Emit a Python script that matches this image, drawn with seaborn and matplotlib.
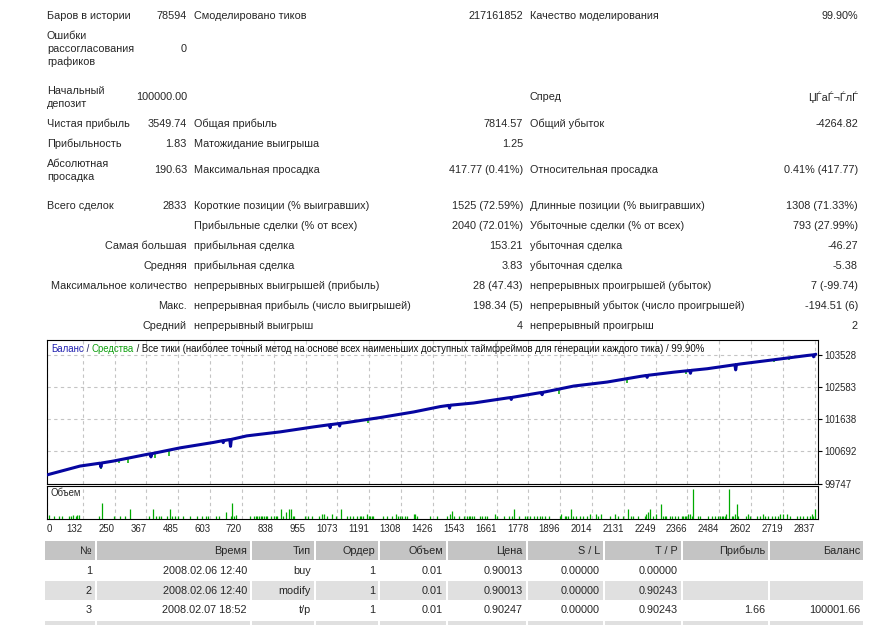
import numpy as np
import pandas as pd
import seaborn as sns
import matplotlib.pyplot as plt
from matplotlib.patches import Rectangle


# ---- report summary (three label/value column pairs, one entry per row) ----
col1_labels = ["Баров в истории", "Ошибки\nрассогласования\nграфиков", "Начальный\nдепозит",
               "Чистая прибыль", "Прибыльность", "Абсолютная\nпросадка", "Всего сделок", "",
               "Самая большая", "Средняя", "Максимальное количество", "Макс.", "Средний"]
col1_values = ["78594", "0", "100000.00", "3549.74", "1.83", "190.63", "2833", "",
               "", "", "", "", ""]
col2_labels = ["Смоделировано тиков", "", "", "Общая прибыль", "Матожидание выигрыша",
               "Максимальная просадка", "Короткие позиции (% выигравших)",
               "Прибыльные сделки (% от всех)", "прибыльная сделка", "прибыльная сделка",
               "непрерывных выигрышей (прибыль)", "непрерывная прибыль (число выигрышей)",
               "непрерывный выигрыш"]
col2_values = ["217161852", "", "", "7814.57", "1.25", "417.77 (0.41%)", "1525 (72.59%)",
               "2040 (72.01%)", "153.21", "3.83", "28 (47.43)", "198.34 (5)", "4"]
col3_labels = ["Качество моделирования", "", "Спред", "Общий убыток", "",
               "Относительная просадка", "Длинные позиции (% выигравших)",
               "Убыточные сделки (% от всех)", "убыточная сделка", "убыточная сделка",
               "непрерывных проигрышей (убыток)", "непрерывный убыток (число проигрышей)",
               "непрерывный проигрыш"]
col3_values = ["99.90%", "", "ЏЃаЃ¬ЃлЃ", "-4264.82", "", "0.41% (417.77)", "1308 (71.33%)",
               "793 (27.99%)", "-46.27", "-5.38", "7 (-99.74)", "-194.51 (6)", "2"]

# ---- balance curve (trade number, balance) ----
balance_trade = [0, 122, 196, 199, 202, 245, 369, 381, 384, 387, 492, 615, 648, 651, 654,
                 675, 678, 681, 738, 861, 985, 1043, 1046, 1049, 1078, 1081, 1084, 1108,
                 1231, 1354, 1453, 1484, 1487, 1490, 1576, 1700, 1712, 1715, 1718, 1823,
                 1826, 1829, 1832, 1946, 2069, 2192, 2214, 2217, 2220, 2315, 2374, 2377,
                 2380, 2439, 2541, 2544, 2547, 2562, 2685, 2809, 2829, 2832, 2835, 2840]
balance_value = [100000, 100260, 100345, 100230, 100350, 100407, 100603, 100620, 100530,
                 100625, 100796, 100955, 101005, 100950, 101010, 101040, 100840, 101045,
                 101148, 101265, 101412, 101475, 101390, 101480, 101510, 101440, 101515,
                 101541, 101687, 101851, 102010, 102045, 101965, 102050, 102115, 102262,
                 102275, 102220, 102280, 102420, 102423, 102360, 102428, 102614, 102731,
                 102898, 102925, 102870, 102930, 103021, 103070, 102990, 103075, 103123,
                 103240, 103090, 103245, 103264, 103387, 103513, 103530, 103475, 103535,
                 103549.74]

# ---- equity drawdown spikes (trade, top, bottom) ----
equity_trade = [199, 266, 299, 399, 451, 1187, 1893, 2141, 2359, 2684, 2740]
equity_high = [100350, 100450, 100500, 100640, 100730, 101640, 102510, 102820, 103060,
               103385, 103440]
equity_low = [100160, 100360, 100355, 100490, 100555, 101520, 102365, 102700, 102970,
              103325, 103380]

# ---- volume panel ----
volume_trade = [7, 26, 44, 57, 81, 88, 97, 106, 112, 118, 192, 204, 248, 270, 288, 307,
                377, 391, 403, 414, 421, 444, 455, 463, 473, 485, 502, 529, 553, 574, 587,
                595, 624, 636, 661, 679, 685, 691, 698, 750, 763, 772, 777, 784, 790, 796,
                802, 809, 814, 827, 839, 846, 851, 864, 870, 882, 895, 901, 907, 913, 954,
                966, 979, 1003, 1016, 1024, 1034, 1053, 1068, 1087, 1108, 1120, 1132, 1145,
                1155, 1161, 1169, 1182, 1188, 1194, 1200, 1206, 1243, 1256, 1274, 1290,
                1297, 1305, 1311, 1324, 1330, 1354, 1360, 1367, 1416, 1441, 1478, 1490,
                1496, 1502, 1521, 1539, 1552, 1558, 1564, 1570, 1576, 1601, 1607, 1619,
                1626, 1656, 1662, 1687, 1705, 1718, 1724, 1742, 1767, 1773, 1786, 1798,
                1810, 1823, 1829, 1841, 1853, 1894, 1900, 1912, 1919, 1925, 1935, 1944,
                1956, 1968, 1981, 1993, 2005, 2027, 2036, 2048, 2079, 2097, 2110, 2128,
                2147, 2159, 2165, 2184, 2208, 2214, 2221, 2227, 2239, 2251, 2267, 2276,
                2282, 2288, 2301, 2307, 2319, 2332, 2344, 2350, 2356, 2362, 2369, 2375,
                2381, 2387, 2406, 2412, 2443, 2455, 2467, 2480, 2485, 2492, 2498, 2504,
                2510, 2519, 2529, 2535, 2541, 2548, 2553, 2584, 2590, 2596, 2621, 2633,
                2646, 2652, 2664, 2677, 2689, 2701, 2707, 2720, 2732, 2744, 2769, 2781,
                2794, 2806, 2818, 2825, 2831, 2837]
volume_size = [1.3, 1, 1, 1, 1, 1, 1.3, 1, 1.3, 1.3, 1, 5, 1, 1, 1, 3,
               1, 3, 1, 1, 1, 1, 3, 1, 1, 1, 1, 1, 1, 1, 1,
               1, 1, 1, 2.2, 1, 5, 1, 1.3, 1, 1, 1, 1, 1, 1, 1,
               1, 1, 1, 1, 1, 1, 1, 3, 1, 2.2, 3, 3, 1, 1, 1,
               1, 1, 1, 1.6, 1.6, 1, 1.6, 1, 3, 1, 1, 1, 1,
               1, 1, 1, 1.6, 1, 1, 1, 1, 1, 1, 1, 1.6,
               1, 1, 1, 1, 1, 1.6, 1.6, 1, 1, 1, 1, 1.6,
               2.5, 1, 1, 1, 1, 1, 1, 1, 1, 1, 1, 1,
               1, 1.6, 1, 1, 1, 1, 3, 1, 1, 1, 1, 1,
               1, 1, 1, 1, 1, 1, 1.6, 1, 1, 1, 3, 1,
               1, 1, 1, 1, 1.6, 1.6, 1, 1.6, 1, 1.6, 1, 1,
               3, 1, 1, 1, 1, 1.6, 2, 3, 1, 1.6, 4.6, 1,
               1, 1, 1, 1, 1, 1, 1, 1, 1, 1, 1.6, 1.6,
               1, 9, 1, 1, 1, 1, 1, 1, 1, 1, 1, 1,
               1.6, 9, 1, 1, 1.6, 4.6, 1, 1, 1.6, 1, 1, 1,
               1.6, 1, 1, 1, 1, 1, 1.6, 1.6, 1.6, 1, 1, 1,
               1, 1, 1, 1.6, 1, 3]

x_ticks = [0, 132, 250, 367, 485, 603, 720, 838, 955, 1073, 1191, 1308, 1426, 1543, 1661,
           1778, 1896, 2014, 2131, 2249, 2366, 2484, 2602, 2719, 2837]
y_ticks = [99747, 100692, 101638, 102583, 103528]

title_parts = ["Баланс", " / ", "Средства",
               " / Все тики (наиболее точный метод на основе всех наименьших доступных "
               "таймфреймов для генерации каждого тика) / 99.90%"]
title_colors = ["#2020b0", "#202060", "#10a010", "#101010"]

# ---- order table ----
table_header = ["№", "Время", "Тип", "Ордер", "Объем", "Цена", "S / L", "T / P",
                "Прибыль", "Баланс"]
table_rows = [
    ["1", "2008.02.06 12:40", "buy", "1", "0.01", "0.90013", "0.00000", "0.00000", "", ""],
    ["2", "2008.02.06 12:40", "modify", "1", "0.01", "0.90013", "0.00000", "0.90243", "", ""],
    ["3", "2008.02.07 18:52", "t/p", "1", "0.01", "0.90247", "0.00000", "0.90243", "1.66",
     "100001.66"],
]


W, H = 879, 625
FS = 7.8
CFS = 6.9
BLUE = "#0606a0"
GREEN = "#00aa00"


def fx(x):
    return x / W


def fy(y):
    return 1 - y / H


sns.set_style("white")
plt.rcParams["font.family"] = ["Liberation Sans", "DejaVu Sans"]

fig = plt.figure(figsize=(W / 100, H / 100), dpi=100)

# summary block
row_y = [16, 49, 97.5, 124, 144, 170.5, 206, 226, 246, 266, 286, 306, 326]
for i, y in enumerate(row_y):
    lab = col1_labels[i]
    if lab:
        lines = lab.split("\n")
        left = col1_values[i] != ""
        for k, line in enumerate(lines):
            yy = y + (k - (len(lines) - 1) / 2) * 13
            fig.text(fx(47) if left else fx(187), fy(yy), line,
                     ha="left" if left else "right", va="center", fontsize=FS)
    fig.text(fx(187), fy(y), col1_values[i], ha="right", va="center", fontsize=FS)
    fig.text(fx(194), fy(y), col2_labels[i], ha="left", va="center", fontsize=FS)
    fig.text(fx(523), fy(y), col2_values[i], ha="right", va="center", fontsize=FS)
    fig.text(fx(530), fy(y), col3_labels[i], ha="left", va="center", fontsize=FS)
    fig.text(fx(858), fy(y), col3_values[i], ha="right", va="center", fontsize=FS)

# balance chart
ax = fig.add_axes([fx(47), fy(483.5), (818.5 - 47) / W, (483.5 - 340) / H])
axv = fig.add_axes([fx(47), fy(519), (818.5 - 47) / W, (519 - 486) / H])

df = pd.DataFrame({"trade": balance_trade, "balance": balance_value})
ax.vlines(equity_trade, equity_low, equity_high, colors=GREEN, lw=1.1, zorder=2)
sns.lineplot(data=df, x="trade", y="balance", ax=ax, color=BLUE, lw=2.2,
             estimator=None, sort=False, zorder=3)

ax.set_xlim(0, 2850)
ax.set_ylim(99747, 103968)
ax.set_xticks(x_ticks)
ax.set_xticklabels([])
ax.set_yticks(y_ticks)
ax.set_yticklabels([str(v) for v in y_ticks], fontsize=CFS)
ax.yaxis.tick_right()
ax.tick_params(axis="x", length=0)
ax.tick_params(axis="y", length=3, width=0.8, pad=1.2, color="black")
ax.grid(True, ls=(0, (3, 3)), color="#c4c4c4", lw=0.8)
ax.set_xlabel("")
ax.set_ylabel("")

t = ax.text(fx(51), fy(349), title_parts[0], color=title_colors[0], fontsize=CFS,
            ha="left", va="center", transform=fig.transFigure)
for part, col in zip(title_parts[1:], title_colors[1:]):
    t = ax.annotate(part, xy=(1, 0), xycoords=t, ha="left", va="bottom",
                    color=col, fontsize=CFS)

# volume panel
axv.vlines(volume_trade, 0, volume_size, colors=GREEN, lw=0.9)
axv.set_xlim(0, 2850)
axv.set_ylim(0, 10)
axv.set_yticks([])
axv.set_xticks(x_ticks)
axv.set_xticklabels([str(v) for v in x_ticks], fontsize=CFS)
for k, lbl in enumerate(axv.get_xticklabels()):
    lbl.set_ha("left" if k == 0 else "right")
axv.tick_params(axis="x", length=3, width=0.8, pad=0.5, color="black")
axv.grid(True, axis="x", ls=(0, (3, 3)), color="#c4c4c4", lw=0.8)
axv.text(fx(51), fy(493), "Объем", fontsize=CFS, ha="left", va="center",
         transform=fig.transFigure)

for a in (ax, axv):
    for s in a.spines.values():
        s.set_color("black")
        s.set_linewidth(0.8)

# order table
col_edges = [44, 96, 251, 315, 379, 447, 527, 604, 682, 769, 864]
band_top = [541, 561, 581, 601, 621]
band_color = ["#c4c4c4", "white", "#e0e0e0", "white", "#e0e0e0"]
for r, top in enumerate(band_top):
    for j in range(len(col_edges) - 1):
        x0 = col_edges[j] + 1
        x1 = col_edges[j + 1] - 1
        fig.add_artist(Rectangle((fx(x0), fy(top + 19)), (x1 - x0) / W, 19 / H,
                                 transform=fig.transFigure, color=band_color[r], lw=0))

for j, name in enumerate(table_header):
    fig.text(fx(col_edges[j + 1] - 4), fy(551), name, ha="right", va="center", fontsize=FS)
for r, row in enumerate(table_rows):
    for j, cell in enumerate(row):
        fig.text(fx(col_edges[j + 1] - 4), fy(571 + 19.7 * r), cell, ha="right",
                 va="center", fontsize=FS)

fig.savefig("out.png", dpi=100)
